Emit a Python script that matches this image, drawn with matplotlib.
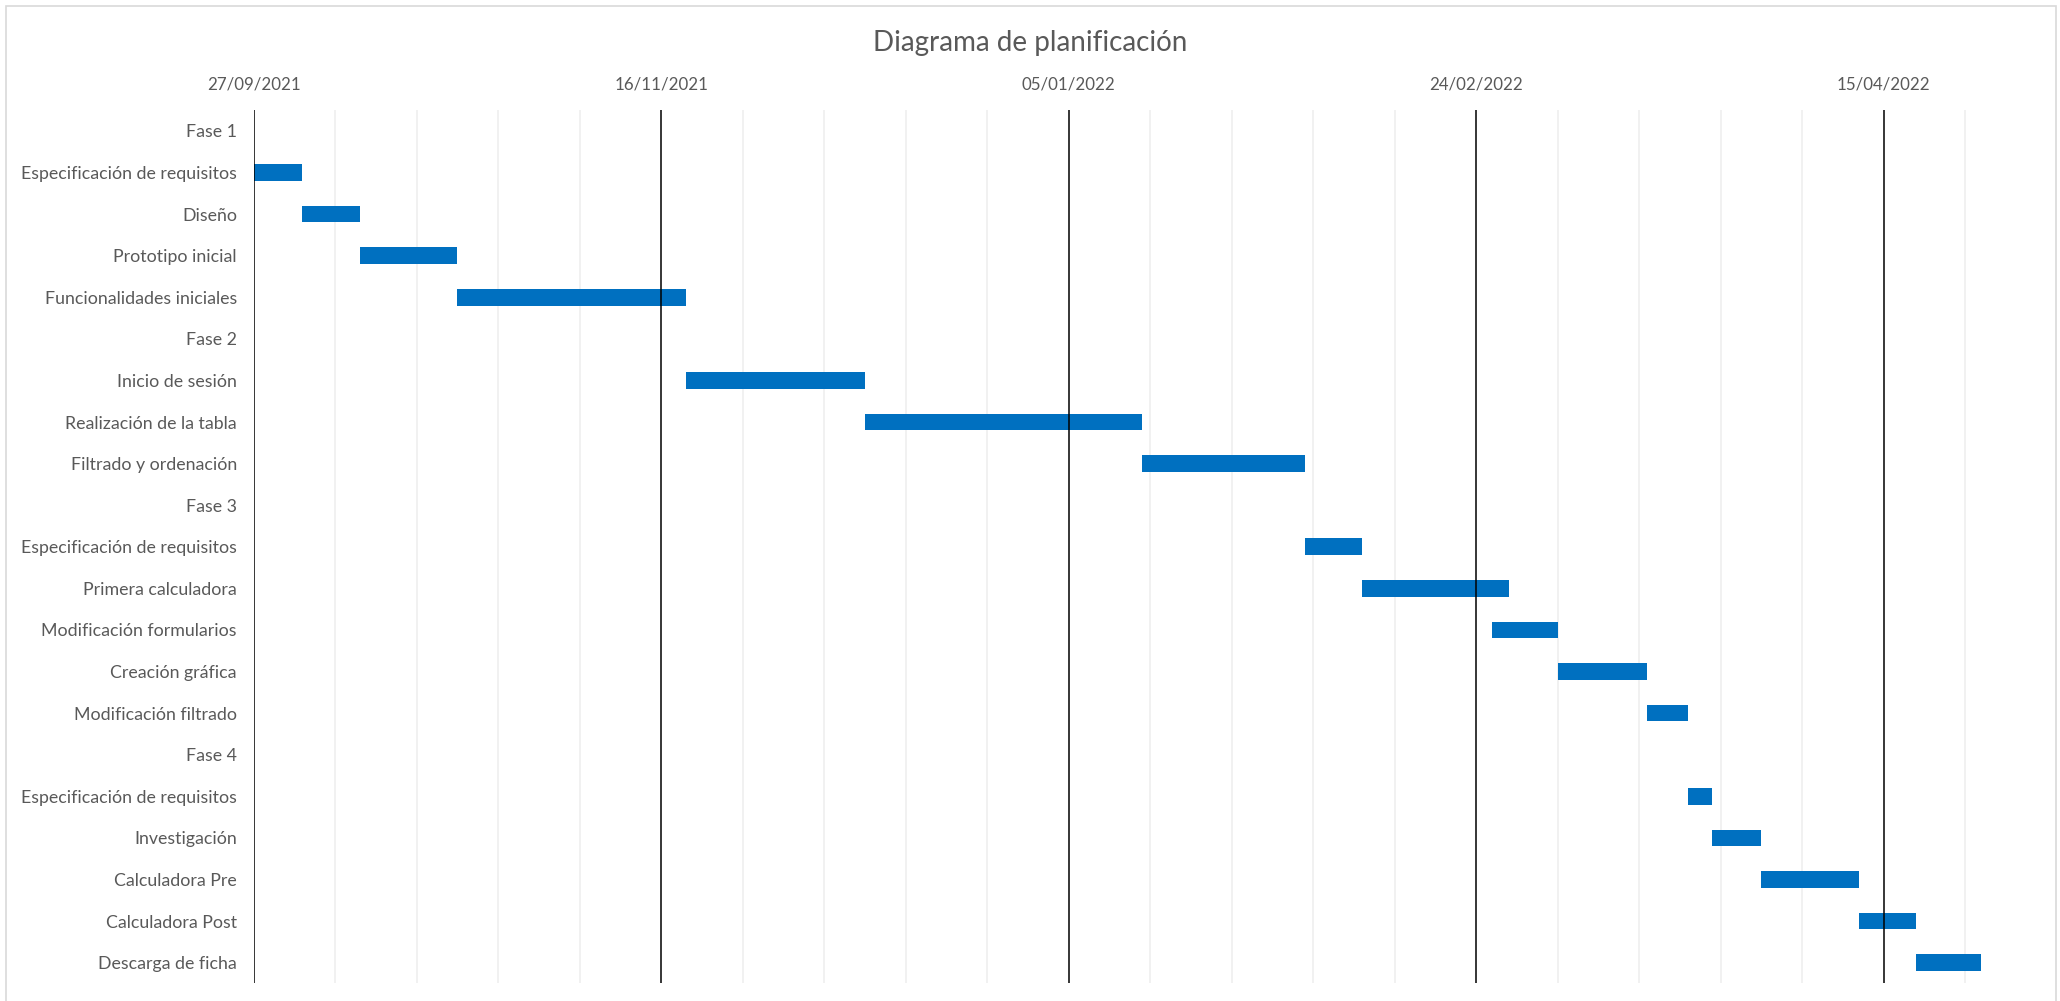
import numpy as np
import matplotlib
matplotlib.use('Agg')
import matplotlib.pyplot as plt
import matplotlib.dates as mdates
from matplotlib.patches import Rectangle
from datetime import date, timedelta

# Tasks (top to bottom); phase header rows have no bar
tasks = ['Fase 1', 'Especificación de requisitos', 'Diseño', 'Prototipo inicial',
         'Funcionalidades iniciales', 'Fase 2', 'Inicio de sesión',
         'Realización de la tabla', 'Filtrado y ordenación', 'Fase 3',
         'Especificación de requisitos', 'Primera calculadora',
         'Modificación formularios', 'Creación gráfica', 'Modificación filtrado',
         'Fase 4', 'Especificación de requisitos', 'Investigación',
         'Calculadora Pre', 'Calculadora Post', 'Descarga de ficha']
starts = [None, '2021-09-27', '2021-10-03', '2021-10-10', '2021-10-22',
          None, '2021-11-19', '2021-12-11', '2022-01-14',
          None, '2022-02-03', '2022-02-10', '2022-02-26', '2022-03-06', '2022-03-17',
          None, '2022-03-22', '2022-03-25', '2022-03-31', '2022-04-12', '2022-04-19']
durations = [0, 6, 7, 12, 28, 0, 22, 34, 20, 0, 7, 18, 8, 11, 5, 0, 3, 6, 12, 7, 8]

axis_start = date(2021, 9, 27)
axis_end = date(2022, 5, 1)
major_step = 50  # days
minor_step = 10  # days

text_col = '#595959'
bar_col = '#0070C0'

plt.rcParams['font.family'] = ['Lato', 'DejaVu Sans']

fig = plt.figure(figsize=(20.6, 10.01), dpi=100)
ax = fig.add_axes([0.1231, 0.0175, 0.8546, 0.8725])

# Bars
ypos = np.arange(len(tasks))
for y, s, d in zip(ypos, starts, durations):
    if s is None:
        continue
    left = mdates.datestr2num(s)
    ax.barh(y, d, left=left, height=0.40, color=bar_col, zorder=2)

# Axis set-up
x0 = mdates.date2num(axis_start)
x1 = mdates.date2num(axis_end)
ax.set_xlim(x0, x1)
ax.set_ylim(len(tasks) - 0.5, -0.5)

major = [axis_start + timedelta(days=k) for k in range(0, (axis_end - axis_start).days + 1, major_step)]
minor = [axis_start + timedelta(days=k) for k in range(0, (axis_end - axis_start).days + 1, minor_step)]
ax.set_xticks(mdates.date2num(major))
ax.set_xticks(mdates.date2num(minor), minor=True)
ax.xaxis.set_major_formatter(mdates.DateFormatter('%d/%m/%Y'))
ax.xaxis.tick_top()
ax.tick_params(axis='x', which='both', length=0, pad=13, labelsize=12.2, labelcolor=text_col)

ax.set_yticks(ypos)
ax.set_yticklabels(tasks)
ax.tick_params(axis='y', length=0, pad=12, labelsize=12.8, labelcolor=text_col)

# Gridlines: light minor under bars, black major over bars
ax.grid(axis='x', which='minor', color='#efefef', linewidth=1.2, zorder=1)
ax.set_axisbelow(True)
for m in major:
    ax.axvline(mdates.date2num(m), color='black', linewidth=1.1, zorder=3)

for sp in ax.spines.values():
    sp.set_visible(False)

# Title and chart frame
fig.text(0.5, 1 - 43 / 1001, 'Diagrama de planificación', ha='center', va='center',
         fontsize=20, color=text_col)
fig.patches.append(Rectangle((6 / 2060, -0.02), 2050 / 2060, 1.02 - 6 / 1001,
                             transform=fig.transFigure, fill=False,
                             edgecolor='#d9d9d9', linewidth=1.2))

fig.savefig('out.png', dpi=100)
